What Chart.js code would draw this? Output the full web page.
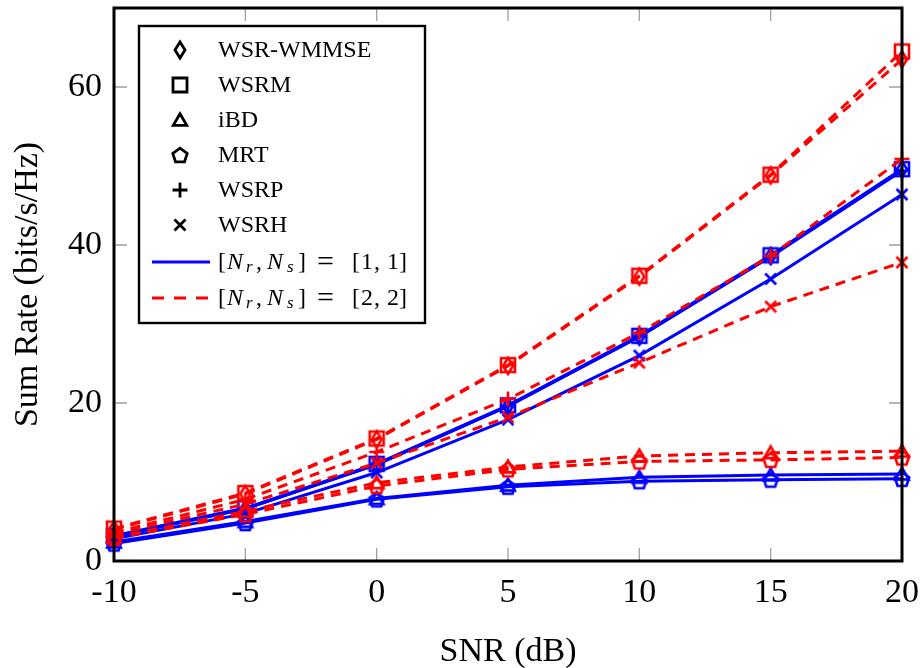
<!DOCTYPE html>
<html>
<head>
<meta charset="utf-8">
<script src="https://cdn.jsdelivr.net/npm/chart.js@4.4.0/dist/chart.umd.min.js"></script>
<style>
  html, body { margin: 0; padding: 0; background: #fff; }
</style>
</head>
<body>
<canvas id="graficoTaxa" width="922" height="668"></canvas>
<script>
const snr = [-10, -5, 0, 5, 10, 15, 20];
const algoritmos = ['WSR-WMMSE', 'WSRM', 'iBD', 'MRT', 'WSRP', 'WSRH'];
const formas = ['diamante', 'quadrado', 'triangulo', 'pentagono', 'mais', 'xis'];
const configuracoes = [['1', '1'], ['2', '2']];
const ticksY = [0, 20, 40, 60];

// [Nr, Ns] = [1, 1]
const wmmse11 = [3.1, 6.6, 12.2, 19.6, 28.4, 38.6, 49.6];
const wsrm11  = [3.2, 6.7, 12.3, 19.7, 28.5, 38.7, 49.6];
const ibd11   = [2.4, 5.0, 7.9, 9.6, 10.6, 10.9, 11.0];
const mrt11   = [2.2, 4.8, 7.8, 9.4, 10.1, 10.3, 10.4];
const wsrp11  = [3.1, 6.6, 12.2, 19.6, 28.4, 38.5, 49.4];
const wsrh11  = [2.8, 6.0, 11.2, 17.9, 26.0, 35.7, 46.4];

// [Nr, Ns] = [2, 2]
const wmmse22 = [4.0, 8.5, 15.4, 24.7, 36.0, 48.8, 63.5];
const wsrm22  = [4.1, 8.6, 15.5, 24.8, 36.1, 48.9, 64.5];
const ibd22   = [3.0, 6.3, 9.9, 11.9, 13.3, 13.7, 13.9];
const mrt22   = [2.9, 5.9, 9.5, 11.6, 12.6, 12.8, 13.1];
const wsrp22  = [3.6, 7.8, 13.8, 20.5, 28.9, 38.6, 50.9];
const wsrh22  = [3.4, 7.2, 12.4, 18.2, 25.1, 32.2, 37.8];

const series11 = [wmmse11, wsrm11, ibd11, mrt11, wsrp11, wsrh11];
const series22 = [wmmse22, wsrm22, ibd22, mrt22, wsrp22, wsrh22];

const AZUL = '#0000ff';
const VERMELHO = '#ff0000';
const FONTE = '"Liberation Serif", "Times New Roman", serif';

// desenha uma marca (sem preenchimento) centrada em x, y
function desenharForma(ctx, forma, x, y) {
  ctx.beginPath();
  if (forma === 'diamante') {
    ctx.moveTo(x, y - 8); ctx.lineTo(x + 5, y); ctx.lineTo(x, y + 8); ctx.lineTo(x - 5, y); ctx.closePath();
  } else if (forma === 'quadrado') {
    ctx.rect(x - 7, y - 7, 14, 14);
  } else if (forma === 'triangulo') {
    for (let i = 0; i < 3; i++) {
      const a = -Math.PI / 2 + i * 2 * Math.PI / 3;
      const px = x + 7.8 * Math.cos(a), py = y + 1.5 + 7.8 * Math.sin(a);
      if (i === 0) ctx.moveTo(px, py); else ctx.lineTo(px, py);
    }
    ctx.closePath();
  } else if (forma === 'pentagono') {
    for (let i = 0; i < 5; i++) {
      const a = -Math.PI / 2 + i * 2 * Math.PI / 5;
      const px = x + 7.6 * Math.cos(a), py = y + 0.8 + 7.6 * Math.sin(a);
      if (i === 0) ctx.moveTo(px, py); else ctx.lineTo(px, py);
    }
    ctx.closePath();
  } else if (forma === 'mais') {
    ctx.moveTo(x - 7.5, y); ctx.lineTo(x + 7.5, y);
    ctx.moveTo(x, y - 7.5); ctx.lineTo(x, y + 7.5);
  } else if (forma === 'xis') {
    ctx.moveTo(x - 5.5, y - 5.5); ctx.lineTo(x + 5.5, y + 5.5);
    ctx.moveTo(x + 5.5, y - 5.5); ctx.lineTo(x - 5.5, y + 5.5);
  }
  ctx.stroke();
}

function criarMarca(forma, cor, espessura) {
  const c = document.createElement('canvas');
  c.width = 24; c.height = 24;
  const cx = c.getContext('2d');
  cx.strokeStyle = cor;
  cx.lineWidth = espessura;
  desenharForma(cx, forma, 12, 12);
  return c;
}

const datasets = [];
// vermelho primeiro para ficar por cima
series22.forEach((dados, i) => {
  datasets.push({
    label: algoritmos[i] + ' [2, 2]',
    data: dados.map((v, k) => ({ x: snr[k], y: v })),
    borderColor: VERMELHO,
    borderWidth: 3,
    borderDash: [10, 7],
    pointStyle: criarMarca(formas[i], VERMELHO, 2.6),
    pointRadius: 8,
    fill: false,
    tension: 0,
    clip: false
  });
});
series11.forEach((dados, i) => {
  datasets.push({
    label: algoritmos[i] + ' [1, 1]',
    data: dados.map((v, k) => ({ x: snr[k], y: v })),
    borderColor: AZUL,
    borderWidth: 3,
    pointStyle: criarMarca(formas[i], AZUL, 2.6),
    pointRadius: 8,
    fill: false,
    tension: 0,
    clip: false
  });
});

// moldura, marcas de escala internas e legenda
const pluginMoldura = {
  id: 'moldura',
  afterDraw(chart) {
    const { ctx, chartArea: a, scales } = chart;
    ctx.save();

    // marcas internas cinzentas
    ctx.strokeStyle = '#a0a0a0';
    ctx.lineWidth = 1.3;
    snr.forEach(v => {
      if (v === -10 || v === 20) return;
      const px = scales.x.getPixelForValue(v);
      ctx.beginPath();
      ctx.moveTo(px, a.bottom); ctx.lineTo(px, a.bottom - 13);
      ctx.moveTo(px, a.top); ctx.lineTo(px, a.top + 13);
      ctx.stroke();
    });
    ticksY.forEach(v => {
      if (v === 0) return;
      const py = scales.y.getPixelForValue(v);
      ctx.beginPath();
      ctx.moveTo(a.left, py); ctx.lineTo(a.left + 13, py);
      ctx.moveTo(a.right, py); ctx.lineTo(a.right - 13, py);
      ctx.stroke();
    });

    // moldura
    ctx.strokeStyle = '#000';
    ctx.lineWidth = 3;
    ctx.strokeRect(a.left, a.top, a.right - a.left, a.bottom - a.top);

    // legenda
    const lx = 139, ly = 26, lw = 286, lh = 297;
    ctx.fillStyle = '#fff';
    ctx.fillRect(lx, ly, lw, lh);
    ctx.lineWidth = 2.4;
    ctx.strokeRect(lx, ly, lw, lh);

    ctx.fillStyle = '#000';
    ctx.textBaseline = 'middle';
    ctx.textAlign = 'left';
    algoritmos.forEach((nome, i) => {
      const y = 50 + 35 * i;
      ctx.strokeStyle = '#000';
      ctx.lineWidth = 2.8;
      desenharForma(ctx, formas[i], 180, y);
      ctx.font = '24px ' + FONTE;
      ctx.fillText(nome, 218, y + 1);
    });

    configuracoes.forEach((cfg, i) => {
      const y = 262 + 36 * i;
      ctx.beginPath();
      ctx.strokeStyle = i === 0 ? AZUL : VERMELHO;
      ctx.lineWidth = 3;
      ctx.setLineDash(i === 0 ? [] : [12, 10]);
      ctx.moveTo(152, y); ctx.lineTo(210, y);
      ctx.stroke();
      ctx.setLineDash([]);

      // [N_r, N_s] = [a, b]
      const normal = '24px ' + FONTE;
      const italico = 'italic 24px ' + FONTE;
      const indice = 'italic 17px ' + FONTE;
      const partes = [
        { t: '[', f: normal, dx: 0, dy: 0 },
        { t: 'N', f: italico, dx: 9, dy: 0 },
        { t: 'r', f: indice, dx: 28, dy: 5 },
        { t: ',', f: normal, dx: 38, dy: 0 },
        { t: 'N', f: italico, dx: 49, dy: 0 },
        { t: 's', f: indice, dx: 69, dy: 5 },
        { t: ']', f: normal, dx: 80, dy: 0 },
        { t: '=', f: '30px ' + FONTE, dx: 99, dy: 0 },
        { t: '[', f: normal, dx: 134, dy: 0 },
        { t: cfg[0], f: normal, dx: 143, dy: 0 },
        { t: ',', f: normal, dx: 156, dy: 0 },
        { t: cfg[1], f: normal, dx: 169, dy: 0 },
        { t: ']', f: normal, dx: 181, dy: 0 }
      ];
      partes.forEach(p => {
        ctx.font = p.f;
        ctx.fillText(p.t, 218 + p.dx, y + 1 + p.dy);
      });
    });

    ctx.restore();
  }
};

const ctx = document.getElementById('graficoTaxa').getContext('2d');
const grafico = new Chart(ctx, {
  type: 'line',
  data: { datasets: datasets },
  options: {
    responsive: false,
    animation: false,
    layout: { autoPadding: false, padding: { top: 8, right: 20, left: 0, bottom: 0 } },
    plugins: {
      legend: { display: false },
      tooltip: { enabled: false }
    },
    scales: {
      x: {
        type: 'linear',
        min: -10,
        max: 20,
        border: { display: false },
        grid: { display: false, drawTicks: false },
        ticks: {
          stepSize: 5,
          color: '#000',
          padding: 12,
          maxRotation: 0,
          font: { family: FONTE, size: 34 }
        },
        title: {
          display: true,
          text: 'SNR (dB)',
          color: '#000',
          font: { family: FONTE, size: 34 },
          padding: { top: 0, bottom: -4 }
        },
        afterFit(scale) {
          scale.height = 107;
          scale.paddingLeft = 0;
          scale.paddingRight = 0;
        }
      },
      y: {
        min: 0,
        max: 70,
        border: { display: false },
        grid: { display: false, drawTicks: false },
        afterBuildTicks(scale) { scale.ticks = ticksY.map(v => ({ value: v })); },
        ticks: {
          color: '#000',
          padding: 12,
          font: { family: FONTE, size: 34 }
        },
        title: {
          display: true,
          text: 'Sum Rate (bits/s/Hz)',
          color: '#000',
          font: { family: FONTE, size: 34 },
          padding: { top: 8, bottom: 0 }
        },
        afterFit(scale) {
          scale.width = 114;
          scale.paddingTop = 0;
          scale.paddingBottom = 0;
        }
      }
    }
  },
  plugins: [pluginMoldura]
});
</script>
</body>
</html>
